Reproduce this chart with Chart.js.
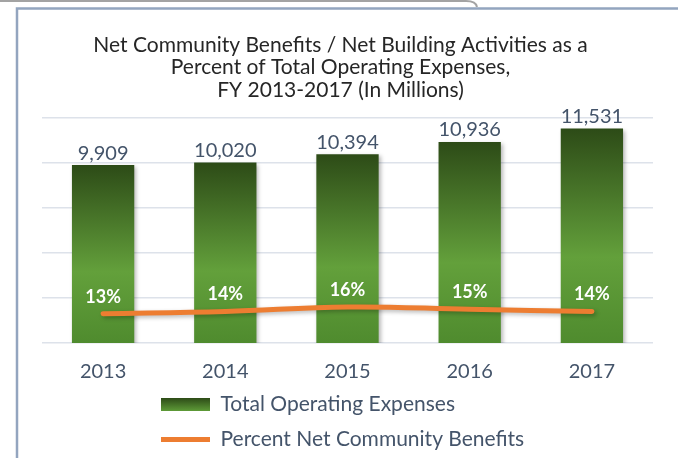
<!DOCTYPE html>
<html>
<head>
<meta charset="utf-8">
<title>Net Community Benefits</title>
<script src="https://cdn.jsdelivr.net/npm/chart.js@4.4.0/dist/chart.umd.min.js"></script>
<style>
  html, body { margin: 0; padding: 0; background: #fff; }
  canvas { display: block; }
</style>
</head>
<body>
<canvas id="chart" width="678" height="458"></canvas>
<script>
const years = ['2013', '2014', '2015', '2016', '2017'];
const operatingExpenses = [9909, 10020, 10394, 10936, 11531];
const percentBenefits = [13, 14, 16, 15, 14];
const titleLines = [
    'Net Community Benefits / Net Building Activities as a',
    'Percent of Total Operating Expenses,',
    'FY 2013-2017 (In Millions)'
];

const slate = '#44546A';
const orange = '#ED7D31';
const legendPad = 14;
const legendFont = 21;

Chart.defaults.font.family = "Lato, 'Open Sans', sans-serif";

// excel style fill: dark at the top, lighter toward the bottom
function barGradient(ctx, top, bottom) {
    const g = ctx.createLinearGradient(0, top, 0, bottom);
    g.addColorStop(0, '#2D4B17');
    g.addColorStop(0.6, '#63A03B');
    g.addColorStop(1, '#4F8B2E');
    return g;
}

const framePlugin = {
    id: 'frame',
    beforeDraw(chart) {
        const ctx = chart.ctx;
        const w = chart.width, h = chart.height;
        ctx.save();
        ctx.fillStyle = '#fff';
        ctx.fillRect(0, 0, w, h);
        ctx.strokeStyle = '#A3A3A3';
        ctx.lineWidth = 2;
        ctx.beginPath();
        ctx.moveTo(0, 1);
        ctx.lineTo(466, 1);
        ctx.quadraticCurveTo(476, 1, 477, 7);
        ctx.stroke();
        ctx.strokeStyle = '#93A5BF';
        ctx.lineWidth = 2.5;
        ctx.beginPath();
        ctx.moveTo(17, h);
        ctx.lineTo(17, 8.5);
        ctx.lineTo(w, 8.5);
        ctx.stroke();
        ctx.restore();
    }
};

// legend sits left-aligned under the plot, starting near x=163
const legendShift = {
    id: 'legendShift',
    afterLayout(chart) {
        chart.legend.left += 119;
        chart.legend.right += 119;
    }
};

const shadowPlugin = {
    id: 'shadow',
    beforeDatasetDraw(chart) {
        const ctx = chart.ctx;
        ctx.save();
        ctx.shadowColor = 'rgba(0,0,0,0.28)';
        ctx.shadowBlur = 4;
        ctx.shadowOffsetX = 2;
        ctx.shadowOffsetY = 2;
    },
    afterDatasetDraw(chart) {
        chart.ctx.restore();
    }
};

const valueLabels = {
    id: 'valueLabels',
    afterDatasetsDraw(chart) {
        const ctx = chart.ctx;
        ctx.save();
        ctx.textAlign = 'center';
        ctx.textBaseline = 'middle';

        ctx.font = "20px Lato, 'Open Sans', sans-serif";
        ctx.fillStyle = slate;
        chart.getDatasetMeta(0).data.forEach((bar, i) => {
            ctx.fillText(operatingExpenses[i].toLocaleString('en-US'), bar.x, bar.y - 12);
        });

        ctx.font = "bold 18px Lato, 'Open Sans', sans-serif";
        ctx.fillStyle = '#fff';
        chart.getDatasetMeta(1).data.forEach((pt, i) => {
            ctx.fillText(percentBenefits[i] + '%', pt.x, pt.y - 17);
        });
        ctx.restore();
    }
};

const canvas = document.getElementById('chart');

new Chart(canvas, {
    type: 'bar',
    data: {
        labels: years,
        datasets: [
            {
                label: 'Total Operating Expenses',
                data: operatingExpenses,
                yAxisID: 'y',
                order: 1,
                borderWidth: 0,
                barPercentage: 0.51,
                categoryPercentage: 1,
                backgroundColor: (c) => {
                    const chart = c.chart;
                    if (!chart.chartArea || !c.parsed) return '#4F8B2E';
                    const y = chart.scales.y;
                    return barGradient(chart.ctx, y.getPixelForValue(c.parsed.y), y.bottom);
                }
            },
            {
                type: 'line',
                label: 'Percent Net Community Benefits',
                data: percentBenefits,
                yAxisID: 'y2',
                order: 0,
                borderColor: orange,
                backgroundColor: orange,
                borderWidth: 5,
                borderCapStyle: 'round',
                tension: 0.4,
                pointRadius: 0,
                fill: false
            }
        ]
    },
    options: {
        responsive: false,
        devicePixelRatio: 1,
        animation: false,
        layout: {
            padding: { top: 8, left: 28, right: 25, bottom: -2 }
        },
        scales: {
            x: {
                grid: { display: false, tickLength: 21 },
                border: { display: false },
                ticks: {
                    color: slate,
                    font: { size: 20 },
                    padding: -4
                }
            },
            y: {
                min: 2000,
                max: 12000,
                border: { display: false },
                grid: {
                    color: '#DDE2EA',
                    lineWidth: 1.5,
                    drawTicks: true,
                    tickLength: 14,
                    tickColor: 'transparent'
                },
                ticks: { display: false, stepSize: 2000 }
            },
            y2: {
                display: false,
                min: 0,
                max: 100
            }
        },
        plugins: {
            title: {
                display: true,
                text: titleLines,
                color: '#262626',
                font: { size: 21, weight: 'normal', lineHeight: 1.08 },
                padding: { top: 25.6, bottom: 16.4 }
            },
            legend: {
                position: 'bottom',
                align: 'start',
                labels: {
                    color: slate,
                    font: { size: legendFont },
                    padding: legendPad,
                    usePointStyle: true,
                    pointStyleWidth: 49,
                    boxHeight: 13,
                    sort: (a, b) => a.datasetIndex - b.datasetIndex,
                    generateLabels(chart) {
                        const items = Chart.defaults.plugins.legend.labels.generateLabels(chart);
                        const leg = chart.legend;
                        items.forEach(item => {
                            if (item.datasetIndex === 0) {
                                item.pointStyle = 'rect';
                                item.lineWidth = 0;
                                if (leg && leg.top !== undefined) {
                                    const cy = leg.top + legendPad + legendFont / 2;
                                    const g = chart.ctx.createLinearGradient(0, cy - 6.5, 0, cy + 6.5);
                                    g.addColorStop(0, '#2D4B17');
                                    g.addColorStop(1, '#5E9B38');
                                    item.fillStyle = g;
                                } else {
                                    item.fillStyle = '#4F8B2E';
                                }
                            } else {
                                item.pointStyle = 'line';
                            }
                        });
                        return items;
                    }
                }
            },
            tooltip: { enabled: false }
        }
    },
    plugins: [framePlugin, legendShift, shadowPlugin, valueLabels]
});
</script>
</body>
</html>
